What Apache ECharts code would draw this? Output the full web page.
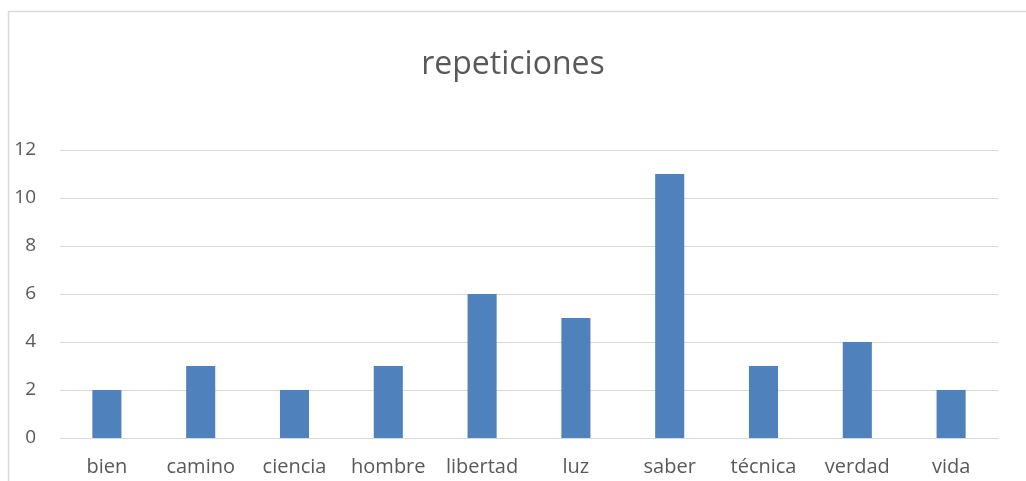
<!DOCTYPE html>
<html><head><meta charset="utf-8">
<script src="https://cdn.jsdelivr.net/npm/echarts@6/dist/echarts.min.js"></script>
<style>html,body{margin:0;padding:0;background:#fff}#c{width:1026px;height:481px}</style>
</head><body><div id="c"></div>
<script>
const categories = ['bien','camino','ciencia','hombre','libertad','luz','saber','técnica','verdad','vida'];
const values = [2,3,2,3,6,5,11,3,4,2];
const titleText = 'repeticiones';
const chart = echarts.init(document.getElementById('c'), null, {renderer:'canvas'});
const font = '"Open Sans", "Noto Sans", sans-serif';
chart.setOption({
  animation:false,
  backgroundColor:'#fff',
  title:{text:titleText,left:'center',top:44,textStyle:{fontFamily:font,fontSize:32,fontWeight:'normal',color:'#595959'}},
  graphic:[{type:'rect',shape:{x:8.5,y:11.5,width:1100,height:600},style:{fill:'none',stroke:'#d9d9d9',lineWidth:1.5},silent:true}],
  grid:{left:60,right:28,top:150,bottom:43,containLabel:false},
  xAxis:{type:'category',data:categories,axisTick:{show:false},
    axisLine:{lineStyle:{color:'#d9d9d9',width:1}},
    axisLabel:{interval:0,hideOverlap:false,color:'#595959',fontSize:20,fontFamily:font,margin:19}},
  yAxis:{type:'value',min:0,max:12,interval:2,
    axisLine:{show:false},axisTick:{show:false},
    splitLine:{lineStyle:{color:'#d9d9d9',width:1}},
    axisLabel:{color:'#595959',fontSize:19,fontFamily:font,margin:24}},
  series:[{type:'bar',data:values,barWidth:'31%',itemStyle:{color:'#4f81bd'}}]
});
</script></body></html>
